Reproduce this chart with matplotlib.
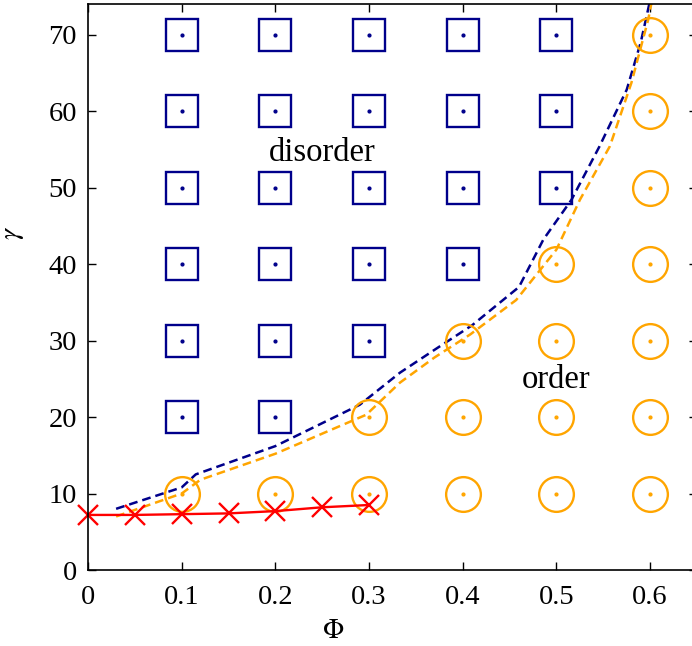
import numpy as np
import matplotlib.pyplot as plt

plt.rcParams['font.family'] = ['Liberation Serif', 'DejaVu Serif']
plt.rcParams['mathtext.fontset'] = 'stix'

# disorder points (squares)
dis_phi = [0.1, 0.2, 0.3, 0.4, 0.5,
           0.1, 0.2, 0.3, 0.4, 0.5,
           0.1, 0.2, 0.3, 0.4, 0.5,
           0.1, 0.2, 0.3, 0.4,
           0.1, 0.2, 0.3,
           0.1, 0.2]
dis_gamma = [70, 70, 70, 70, 70,
             60, 60, 60, 60, 60,
             50, 50, 50, 50, 50,
             40, 40, 40, 40,
             30, 30, 30,
             20, 20]

# order points (circles)
ord_phi = [0.6, 0.6, 0.6,
           0.5, 0.6,
           0.4, 0.5, 0.6,
           0.3, 0.4, 0.5, 0.6,
           0.1, 0.2, 0.3, 0.4, 0.5, 0.6]
ord_gamma = [70, 60, 50,
             40, 40,
             30, 30, 30,
             20, 20, 20, 20,
             10, 10, 10, 10, 10, 10]

# boundary lines
blue_phi = [0.03, 0.1, 0.115, 0.2, 0.29, 0.333, 0.37, 0.41, 0.46, 0.486, 0.516, 0.546, 0.575, 0.59, 0.6]
blue_gamma = [8.0, 10.8, 12.5, 16.2, 21.6, 25.8, 28.8, 32.0, 37.0, 43.2, 48.4, 55.4, 62.8, 69.0, 74.5]
orng_phi = [0.03, 0.1, 0.12, 0.2, 0.297, 0.333, 0.37, 0.408, 0.457, 0.5, 0.525, 0.557, 0.58, 0.598, 0.602]
orng_gamma = [7.0, 10.0, 11.8, 15.2, 20.3, 24.5, 27.8, 30.8, 35.3, 41.9, 48.4, 55.4, 63.7, 72.0, 74.5]

# red line with crosses
red_phi = [0, 0.05, 0.1, 0.15, 0.2, 0.25, 0.3]
red_gamma = [7.2, 7.2, 7.3, 7.4, 7.7, 8.2, 8.5]

navy = '#00008b'
orange = '#ffa500'

fig = plt.figure(figsize=(6.92, 6.46), dpi=100)
ax = fig.add_axes([88/692, 1-570/646, 609/692, 566/646])

ax.plot(blue_phi, blue_gamma, color=navy, lw=1.8, dashes=(3.5, 2))
ax.plot(orng_phi, orng_gamma, color=orange, lw=1.8, dashes=(3.5, 2))

ax.plot(dis_phi, dis_gamma, 's', ms=22.5, mfc='none', mec=navy, mew=1.7, ls='none')
ax.plot(dis_phi, dis_gamma, 'o', ms=2, color=navy, ls='none')
ax.plot(ord_phi, ord_gamma, 'o', ms=25, mfc='none', mec=orange, mew=1.7, ls='none')
ax.plot(ord_phi, ord_gamma, 'o', ms=2, color=orange, ls='none')

ax.plot(red_phi, red_gamma, color='red', lw=1.7, marker='x', ms=14, mew=1.7, clip_on=False)

ax.text(0.25, 54.6, 'disorder', fontsize=23.5, ha='center', va='center')
ax.text(0.5, 24.9, 'order', fontsize=23.5, ha='center', va='center')

ax.set_xlim(0, 0.65)
ax.set_ylim(0, 74)
ax.set_xticks([0, 0.1, 0.2, 0.3, 0.4, 0.5, 0.6])
ax.set_xticklabels(['0', '0.1', '0.2', '0.3', '0.4', '0.5', '0.6'])
ax.set_yticks(range(0, 80, 10))
ax.tick_params(direction='in', length=6, width=1, top=True, right=True, labelsize=20.5)
ax.tick_params(axis='x', pad=11)
ax.tick_params(axis='y', pad=8)
for s in ax.spines.values():
    s.set_linewidth(1.2)

fig.text(333/692, 1-631/646, r'$\Phi$', fontsize=20, ha='center', va='center')
fig.text(13/692, 1-233/646, r'$\gamma$', fontsize=20, ha='center', va='center', rotation=90)

fig.savefig('out.png', dpi=100)
